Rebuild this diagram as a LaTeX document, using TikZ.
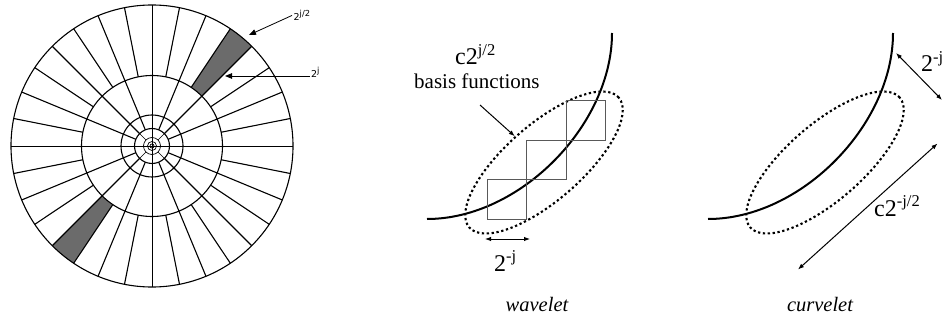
\documentclass[tikz,border=0pt]{standalone}
\usepackage{fontspec}
\setmainfont{Liberation Serif}
\newfontfamily\serifbig{Liberation Serif}
\newfontfamily\wheelfont{DejaVu Sans}
\usetikzlibrary{arrows.meta,shapes.geometric}
\newcommand{\supbig}[1]{\raisebox{9.5pt}{\fontsize{16.5}{18}\selectfont #1}}
\newcommand{\supsmall}[1]{\raisebox{4.8pt}{\fontsize{8.3}{9}\selectfont #1}}
\begin{document}
\begin{tikzpicture}[x=1pt,y=-1pt,
  wheelline/.style={line width=1.1pt},
  axisline/.style={line width=0.8pt},
  thinwheel/.style={line width=0.7pt},
  shadecol/.style={fill=black!58},
  wheelarrow/.style={line width=0.8pt,-{Triangle[length=7pt,width=5.5pt]}},
  wheellabel/.style={inner sep=1.5pt,font=\wheelfont\fontsize{9.5}{11}\selectfont},
  curveline/.style={line width=2pt},
  dotellipse/.style={draw,ellipse,inner sep=0pt,line width=2.1pt,dash pattern=on 2.3pt off 2.6pt,minimum width=198pt,minimum height=76pt,rotate=41},
  tilebox/.style={draw=black!65,line width=1pt,inner sep=0pt,minimum size=39.5pt},
  dimarrow/.style={line width=1pt,{Latex[length=6pt,width=4.5pt]}-{Latex[length=6pt,width=4.5pt]}},
  ptrarrow/.style={line width=1pt,-{Latex[length=6pt,width=4.5pt]}},
  biglabel/.style={inner sep=0pt,font=\serifbig\fontsize{24}{28}\selectfont},
  midlabel/.style={inner sep=0pt,font=\serifbig\fontsize{21}{24}\selectfont},
  caption/.style={inner sep=0pt,font=\serifbig\fontsize{20.5}{24}\selectfont\itshape}
]
\useasboundingbox (0,0) rectangle (947,323);
\fill[white] (0,0) rectangle (947,323);

% ---------------- wheel ----------------
\coordinate (C) at (152,146);
\begin{scope}
  \clip (C) circle[radius=141pt];
  \fill[shadecol,shift={(C)}] (0pt,0pt) -- (45:160pt) -- (56.25:160pt) -- cycle;
  \fill[shadecol,shift={(C)}] (0pt,0pt) -- (225:160pt) -- (236.25:160pt) -- cycle;
\end{scope}
\fill[white] (C) circle[radius=70.5pt];
\foreach \r in {141,70.5,31,17.5}
  \draw[wheelline] (C) circle[radius=\r pt];
\foreach \r in {8.5,4.5,2}
  \draw[thinwheel] (C) circle[radius=\r pt];
\begin{scope}[shift={(C)}]
  \draw[axisline] (180:141pt) -- (0:141pt);
  \draw[axisline] (90:141pt) -- (270:141pt);
  \foreach \a in {11.25,22.5,33.75,45,56.25,67.5,78.75}
    \foreach \q in {0,90,180,270}
      \draw[wheelline] (\a+\q:70.5pt) -- (\a+\q:141pt);
  \foreach \a in {22.5,45,67.5}
    \foreach \q in {0,90,180,270}
      \draw[wheelline] (\a+\q:17.5pt) -- (\a+\q:70.5pt);
  \foreach \q in {45,135,225,315}
    \draw[thinwheel] (\q:8.5pt) -- (\q:17.5pt);
\end{scope}

\node[wheellabel,anchor=base west] (Lj2) at (292,21) {2\supsmall{j/2}};
\coordinate (Aj2) at (249,35);
\draw[wheelarrow] (Lj2.west) -- (Aj2);
\node[wheellabel,anchor=base west] (Lj) at (309.5,78) {2\supsmall{j}};
\coordinate (Aj) at (225,76);
\draw[wheelarrow] (Lj.west |- Aj) -- (Aj);

% ---------------- wavelet ----------------
\draw[curveline] (427,219) .. controls (520,219) and (612,125) .. (612,33);
\node[dotellipse] (WE) at (544,162.5) {};
\node[tilebox] (S1) at (507,199.5) {};
\node[tilebox] (S2) at (546.5,160) {};
\node[tilebox] (S3) at (586,120.5) {};

\node[biglabel,anchor=base west] (Wc) at (455,65) {c2\supbig{j/2}};
\node[midlabel,anchor=base west] (basis) at (414,89) {basis functions};
\coordinate (Bs) at (480,105);
\draw[ptrarrow] (Bs) -- (WE);

\coordinate (Wd1) at (485,239);
\coordinate (Wd2) at (530,239);
\draw[dimarrow] (Wd1) -- (Wd2);
\node[biglabel,anchor=base west] (Wj) at (494,271) {2\supbig{-j}};
\node[caption,anchor=base] (wav) at (537,311) {wavelet};

% ---------------- curvelet ----------------
\draw[curveline] (708,219) .. controls (801,219) and (893,125) .. (893,33);
\node[dotellipse] (CE) at (825,162.5) {};

\coordinate (Cd1) at (896,53);
\coordinate (Cd2) at (942,100);
\draw[dimarrow] (Cd1) -- (Cd2);
\node[biglabel,anchor=base west] (Cj) at (921,72) {2\supbig{-j}};

\coordinate (Cl1) at (937.5,143.5);
\coordinate (Cl2) at (798,269.5);
\draw[dimarrow] (Cl1) -- (Cl2);
\node[biglabel,anchor=base west] (Cc) at (874,216) {c2\supbig{-j/2}};

\node[caption,anchor=base] (cur) at (820,311) {curvelet};
\end{tikzpicture}
\end{document}
